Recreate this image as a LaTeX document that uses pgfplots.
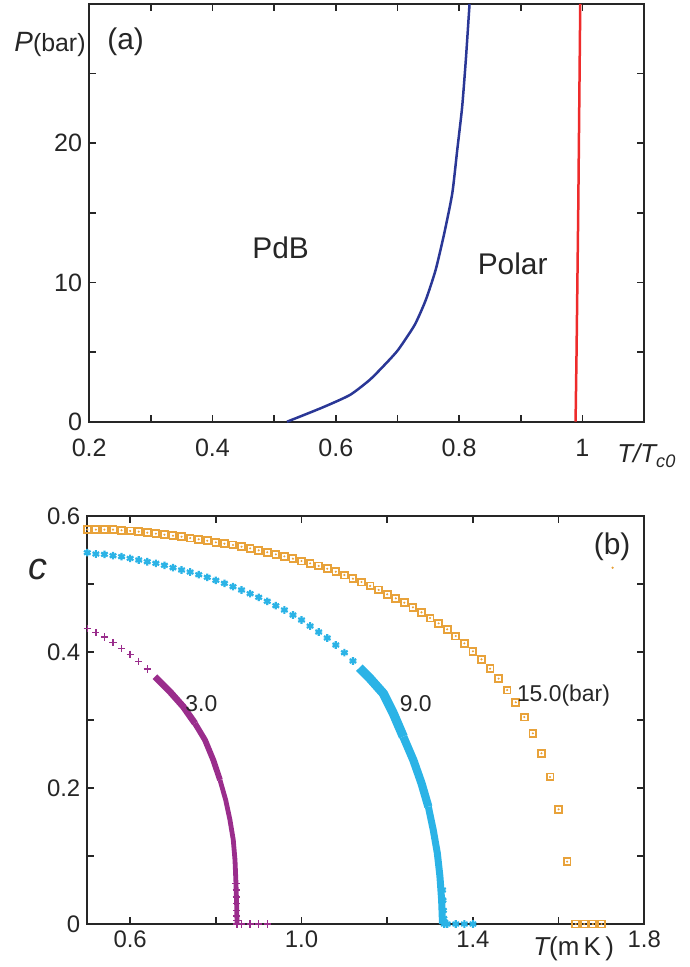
\documentclass[border=0pt]{standalone}
\usepackage{fontspec}
\setmainfont{Liberation Sans}
\usepackage{pgfplots}
\pgfplotsset{compat=1.18}
\definecolor{bl}{HTML}{2A3796}
\definecolor{rd}{HTML}{EE2B2B}
\definecolor{orng}{HTML}{E8A23A}
\definecolor{cyn}{HTML}{2BB3E6}
\definecolor{purp}{HTML}{9A2D8C}
\definecolor{frame}{HTML}{262626}
\begin{document}
\begin{tikzpicture}
\useasboundingbox (0,0) rectangle (345bp,483.5bp);
\pgfplotsset{
  myaxis/.style={
    scale only axis, clip=false, anchor=south west,
    axis line style={line width=1bp, color=frame},
    tick style={line width=0.8bp, color=frame},
    major tick length=3.5bp, tick align=inside,
    /pgf/number format/assume math mode=true,
    ticklabel style={font=\fontsize{12.6}{15}\selectfont, text=black!85},
  }
}
% ---------------- panel (a)
\begin{axis}[myaxis,
  at={(44.6bp,272.65bp)}, width=277.4bp, height=208.85bp,
  xmin=0.2, xmax=1.1, ymin=0, ymax=30,
  xtick={0.2,0.3,0.4,0.5,0.6,0.7,0.8,0.9,1.0},
  xticklabels={0.2,,0.4,,0.6,,0.8,,1},
  ytick={0,5,10,15,20,25},
  yticklabels={0,,10,,20,},
  xticklabel style={yshift=-5bp},
]
\addplot[bl, line width=1.25bp, smooth, tension=0.35] coordinates {
(0.521,0) (0.579,1.03) (0.623,1.92) (0.655,3.0) (0.679,4.07) (0.701,5.15)
(0.728,6.95) (0.746,8.74) (0.762,10.9) (0.776,13.53) (0.789,16.4)
(0.797,19.5) (0.805,22.6) (0.811,26.0) (0.817,30)};
\addplot[rd, line width=1.25bp] coordinates {
(0.989,0) (0.9906,5) (0.9933,15) (0.9955,25) (0.9966,30)};
\end{axis}
% ---------------- panel (b)
\begin{axis}[myaxis,
  at={(43.65bp,21.5bp)}, width=278.5bp, height=204bp,
  xmin=0.5, xmax=1.8, ymin=0, ymax=0.6,
  xtick={0.6,0.8,1.0,1.2,1.4,1.6,1.8},
  xticklabels={0.6,,1.0,,1.4,,1.8},
  ytick={0,0.1,0.2,0.3,0.4,0.5,0.6},
  yticklabels={0,,0.2,,0.4,,0.6},
  ticklabel style={font=\fontsize{12}{14}\selectfont},
]
% 15 bar
\pgfplotstableread{
T c
0.50 0.580
0.52 0.580
0.54 0.580
0.56 0.580
0.58 0.579
0.60 0.578
0.62 0.577
0.64 0.5755
0.66 0.574
0.68 0.5725
0.70 0.571
0.72 0.5696
0.74 0.5676
0.76 0.5657
0.78 0.5637
0.80 0.5613
0.82 0.5593
0.84 0.5574
0.86 0.5549
0.88 0.5525
0.90 0.5495
0.92 0.5466
0.94 0.5436
0.96 0.5407
0.98 0.5373
1.00 0.5338
1.02 0.5304
1.04 0.5265
1.06 0.5225
1.08 0.5181
1.10 0.5132
1.12 0.5078
1.14 0.5029
1.16 0.4971
1.18 0.4912
1.20 0.4848
1.22 0.4789
1.24 0.4725
1.26 0.4657
1.28 0.4583
1.30 0.4500
1.32 0.4422
1.34 0.4333
1.36 0.4235
1.38 0.4127
1.40 0.4010
1.42 0.3892
1.44 0.3755
1.46 0.3608
1.48 0.3440
1.50 0.3260
1.52 0.3044
1.54 0.2804
1.56 0.2510
1.58 0.2162
1.60 0.1686
1.62 0.0917
1.64 0
1.66 0
1.68 0
1.70 0
}\fifteen
\addplot[only marks, mark=square, mark size=1.7bp, orng, mark options={line width=0.9bp}] table {\fifteen};
\addplot[only marks, mark=*, mark size=0.3bp, orng] table {\fifteen};
\addplot[only marks, mark=*, mark size=0.35bp, orng] coordinates {(1.726,0.524)};
% 9 bar
\addplot[only marks, mark=asterisk, mark size=1.9bp, cyn, mark options={line width=1.1bp}] coordinates {
(0.50,0.5461) (0.52,0.5441) (0.54,0.5436) (0.56,0.5417) (0.58,0.5402) (0.60,0.5377)
(0.62,0.5353) (0.64,0.5328) (0.66,0.5304) (0.68,0.5275) (0.70,0.5240) (0.72,0.5206)
(0.74,0.5176) (0.76,0.5137) (0.78,0.5098) (0.80,0.5054) (0.82,0.5010) (0.84,0.4961)
(0.86,0.4912) (0.88,0.4858) (0.90,0.4804) (0.92,0.4745) (0.94,0.4681) (0.96,0.4618)
(0.98,0.4544) (1.00,0.4471) (1.02,0.4382) (1.04,0.4294) (1.06,0.4206) (1.08,0.4103)
(1.10,0.3990) (1.12,0.3868)
(1.329,0.05) (1.330,0.035) (1.331,0.02) (1.332,0.008) (1.333,0)
(1.34,0) (1.36,0) (1.38,0) (1.40,0)};
\addplot[cyn, line width=4.6bp, line cap=butt, line join=round] coordinates {
(1.135,0.377) (1.16,0.361) (1.191,0.339) (1.214,0.310) (1.2375,0.2755)};
\addplot[cyn, line width=4.1bp, line cap=butt, line join=round] coordinates {
(1.2375,0.2755) (1.261,0.241) (1.280,0.207) (1.296,0.1725)};
\addplot[cyn, line width=3.5bp, line cap=butt, line join=round] coordinates {
(1.296,0.1725) (1.3075,0.138) (1.317,0.104)
(1.323,0.070) (1.327,0.035) (1.329,0.0)};
% 3 bar
\addplot[only marks, mark=+, mark size=1.8bp, purp, mark options={line width=0.7bp}] coordinates {
(0.50,0.4348) (0.52,0.4289) (0.54,0.4221) (0.56,0.4142) (0.58,0.4054) (0.60,0.3966)
(0.62,0.3863) (0.64,0.3750)
(0.847,0.06) (0.8475,0.05) (0.848,0.04) (0.8485,0.03) (0.849,0.02) (0.849,0.012) (0.8494,0.005) (0.8494,0)
(0.86,0) (0.88,0) (0.90,0) (0.92,0)};
\addplot[purp, line width=3.3bp, line cap=butt, line join=round] coordinates {
(0.658,0.3637) (0.693,0.3416) (0.724,0.3196) (0.7513,0.2951)};
\addplot[purp, line width=2.9bp, line cap=butt, line join=round] coordinates {
(0.7513,0.2951) (0.7747,0.2706) (0.794,0.2412) (0.8097,0.2118)};
\addplot[purp, line width=2.4bp, line cap=butt, line join=round] coordinates {
(0.8097,0.2118) (0.823,0.1824) (0.833,0.1529) (0.8407,0.1235)
(0.8447,0.0941) (0.847,0.0598) (0.8487,0.0255) (0.8494,0.0)};
\end{axis}
% ---------------- text labels
\node[anchor=base west, inner sep=0pt, font=\fontsize{12.5}{14}\selectfont, text=black!85] at (7bp,457.6bp) {\fontsize{14}{14}\selectfont\itshape P\normalfont\fontsize{12.5}{14}\selectfont(bar)};
\node[anchor=base west, inner sep=0pt, font=\fontsize{15}{18}\selectfont, text=black!85] at (53.5bp,458.5bp) {(a)};
\node[anchor=base west, inner sep=0pt, font=\fontsize{15}{18}\selectfont, text=black!85] at (126bp,354bp) {PdB};
\node[anchor=base west, inner sep=0pt, font=\fontsize{15}{18}\selectfont, text=black!85] at (238.7bp,346bp) {Polar};
\node[anchor=base west, inner sep=0pt, font=\fontsize{13}{15}\selectfont, text=black!85] at (308.5bp,252bp) {\itshape T/T\textsubscript{c0}};
\node[anchor=base west, inner sep=0pt, font=\fontsize{15}{18}\selectfont, text=black!85] at (296.7bp,206bp) {(b)};
\node[anchor=base west, inner sep=0pt, font=\fontsize{19}{22}\selectfont, text=black!85] at (14bp,193.5bp) {\itshape c};
\node[anchor=base west, inner sep=0pt, font=\fontsize{11.5}{14}\selectfont, text=black!85] at (92.5bp,127.6bp) {3.0};
\node[anchor=base west, inner sep=0pt, font=\fontsize{11.5}{14}\selectfont, text=black!85] at (199.7bp,127.6bp) {9.0};
\node[anchor=base west, inner sep=0pt, font=\fontsize{11.5}{14}\selectfont, text=black!85] at (258.3bp,132.6bp) {15.0(bar)};
\node[anchor=base west, inner sep=0pt, font=\fontsize{13}{15}\selectfont, text=black!85] at (266.5bp,6bp) {\itshape T\upshape(m\,K\,)};
\end{tikzpicture}
\end{document}
